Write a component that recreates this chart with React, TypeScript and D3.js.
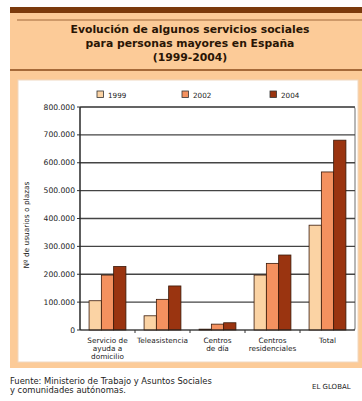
import React from "react";
import * as d3 from "d3";

const categories = [
  ["Servicio de", "ayuda a", "domicilio"],
  ["Teleasistencia"],
  ["Centros", "de día"],
  ["Centros", "residenciales"],
  ["Total"],
];
const categoryKeys = ["sad", "tele", "cdia", "cres", "total"];
const years = ["1999", "2002", "2004"];
const values1999 = [105000, 51000, 3000, 197000, 376000];
const values2002 = [197000, 110000, 21000, 239000, 567000];
const values2004 = [228000, 158000, 26000, 269000, 681000];
const yTicks = [0, 100000, 200000, 300000, 400000, 500000, 600000, 700000, 800000];
const titleLines = [
  "Evolución de algunos servicios sociales",
  "para personas mayores en España",
  "(1999-2004)",
];
const colors = ["#fbd3a4", "#f4915f", "#9a3410"];

const fmt = (v: number) => (v === 0 ? "0" : d3.format(",")(v).replace(/,/g, "."));

export default function App() {
  const W = 362,
    H = 401;
  const plotL = 80,
    plotR = 355,
    plotT = 107,
    plotB = 330;
  const series = [values1999, values2002, values2004];
  const x0 = d3
    .scaleBand<string>()
    .domain(categoryKeys)
    .range([plotL, plotR])
    .paddingInner(0.33)
    .paddingOuter(0.165);
  const x1 = d3.scaleBand<string>().domain(years).range([0, x0.bandwidth()]);
  const y = d3.scaleLinear().domain([0, 800000]).range([plotB, plotT]);
  const font = "'DejaVu Sans', Verdana, sans-serif";
  const legendX = [97, 182, 270];

  return (
    <svg
      width={W}
      height={H}
      style={{ position: "absolute", left: 0, top: 0, background: "#fff" }}
      fontFamily={font}
    >
      <rect x={0} y={0} width={W} height={H} fill="#fff" />
      {/* peach panel */}
      <rect x={10} y={12} width={352} height={356} fill="#fccb98" />
      <rect x={10} y={7} width={352} height={6} fill="#7b3a0c" />
      <line x1={17} x2={362} y1={20} y2={20} stroke="#a0683a" strokeWidth={1} />
      <line x1={10} x2={362} y1={70} y2={70} stroke="#8a4a1a" strokeWidth={1.5} />
      {titleLines.map((t, i) => (
        <text
          key={i}
          x={190}
          y={33 + i * 14}
          textAnchor="middle"
          fontSize={10.8}
          fontWeight="bold"
          fill="#2a1505"
        >
          {t}
        </text>
      ))}
      {/* white panel */}
      <rect x={18} y={80} width={340} height={282} fill="#fff" stroke="#f0d8c0" strokeWidth={1} />
      {/* legend */}
      {years.map((yr, i) => (
        <g key={yr}>
          <rect
            x={legendX[i]}
            y={91}
            width={6.5}
            height={6.5}
            fill={colors[i]}
            stroke="#333"
            strokeWidth={0.8}
          />
          <text x={legendX[i] + 11} y={97.5} fontSize={7.2} fill="#222">
            {yr}
          </text>
        </g>
      ))}
      {/* plot box */}
      <rect
        x={plotL}
        y={plotT}
        width={plotR - plotL}
        height={plotB - plotT}
        fill="#fff"
        stroke="#888"
        strokeWidth={1.2}
        rx={2}
      />
      {/* gridlines */}
      {yTicks.map((t) => (
        <g key={t}>
          {t > 0 && (
            <line x1={plotL} x2={plotR} y1={y(t)} y2={y(t)} stroke="#444" strokeWidth={1.3} />
          )}
          <line x1={plotL - 3} x2={plotL} y1={y(t)} y2={y(t)} stroke="#333" strokeWidth={1} />
          <text
            x={plotL - 5}
            y={y(t) + 2.6}
            textAnchor="end"
            fontSize={7.6}
            fill="#222"
          >
            {fmt(t)}
          </text>
        </g>
      ))}
      {/* bars */}
      {categoryKeys.map((c, ci) => (
        <g key={c} transform={`translate(${x0(c)},0)`}>
          {years.map((yr, si) => {
            const v = series[si][ci];
            return (
              <rect
                key={yr}
                x={x1(yr)}
                y={y(v)}
                width={x1.bandwidth()}
                height={plotB - y(v)}
                fill={colors[si]}
                stroke="#3a1a0a"
                strokeWidth={0.8}
              />
            );
          })}
        </g>
      ))}
      {/* axes */}
      <line x1={plotL} x2={plotL} y1={plotT} y2={plotB} stroke="#222" strokeWidth={1.2} />
      <line x1={plotL} x2={plotR} y1={plotB} y2={plotB} stroke="#222" strokeWidth={1.2} />
      {categoryKeys.map((c, i) => {
        const bx = (x0(c) as number) - (x0.step() - x0.bandwidth()) / 2;
        return i > 0 ? (
          <line key={c} x1={bx} x2={bx} y1={plotB} y2={plotB + 3} stroke="#333" strokeWidth={1} />
        ) : null;
      })}
      {categoryKeys.map((c, ci) => (
        <text
          key={c}
          x={(x0(c) as number) + x0.bandwidth() / 2}
          y={343}
          textAnchor="middle"
          fontSize={7.3}
          fill="#222"
        >
          {categories[ci].map((l, li) => (
            <tspan key={li} x={(x0(c) as number) + x0.bandwidth() / 2} dy={li === 0 ? 0 : 8}>
              {l}
            </tspan>
          ))}
        </text>
      ))}
      <text
        transform={`translate(29,225) rotate(-90)`}
        textAnchor="middle"
        fontSize={7.4}
        fill="#222"
      >
        Nº de usuarios o plazas
      </text>
      {/* footer */}
      <text x={10} y={384} fontSize={8.4} fill="#222">
        Fuente: Ministerio de Trabajo y Asuntos Sociales
      </text>
      <text x={10} y={393} fontSize={8.4} fill="#222">
        y comunidades autónomas.
      </text>
      <text x={312} y={389} fontSize={7} fill="#222">
        EL GLOBAL
      </text>
    </svg>
  );
}
